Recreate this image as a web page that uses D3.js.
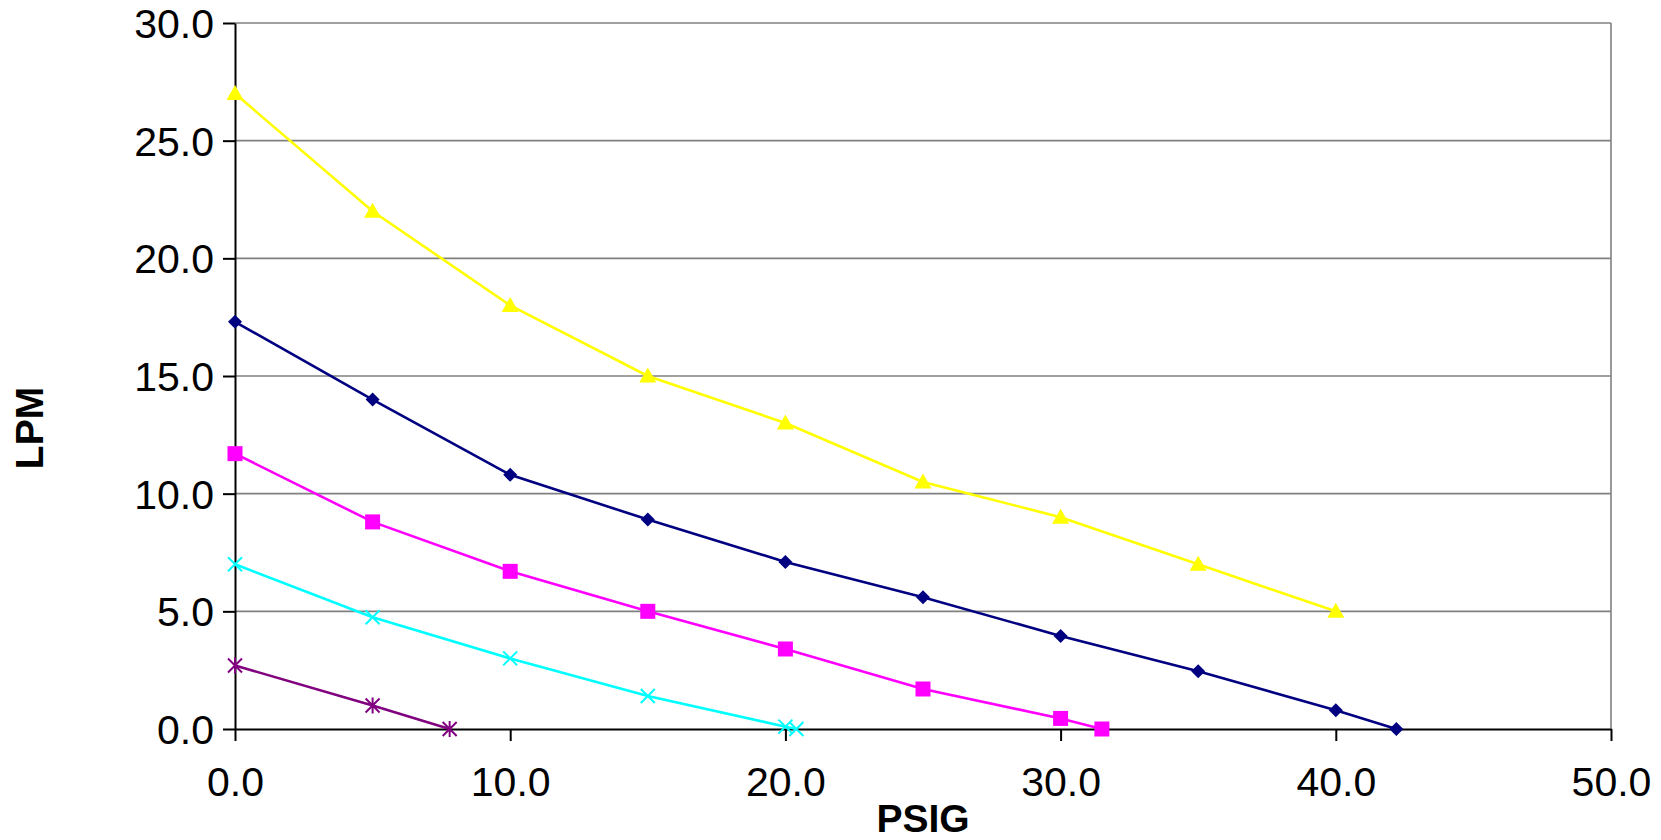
<!DOCTYPE html>
<html>
<head>
<meta charset="utf-8">
<script src="https://cdn.jsdelivr.net/npm/d3@7"></script>
<style>
  body { margin: 0; background: #fff; }
  text { font-family: "Liberation Sans", Arial, sans-serif; }
</style>
</head>
<body>
<div id="chart"></div>
<script>
// chart data
var xTicks = [0, 10, 20, 30, 40, 50];
var yTicks = [0, 5, 10, 15, 20, 25, 30];

var yellowX = [0, 5, 10, 15, 20, 25, 30, 35, 40];
var yellowY = [27, 22, 18, 15, 13, 10.5, 9, 7, 5];

var navyX = [0, 5, 10, 15, 20, 25, 30, 35, 40, 42.2];
var navyY = [17.3, 14, 10.8, 8.9, 7.1, 5.6, 3.95, 2.45, 0.8, 0];

var magentaX = [0, 5, 10, 15, 20, 25, 30, 31.5];
var magentaY = [11.7, 8.8, 6.7, 5.0, 3.4, 1.7, 0.45, 0];

var cyanX = [0, 5, 10, 15, 20, 20.4];
var cyanY = [7.0, 4.75, 3.0, 1.4, 0.1, 0];

var purpleX = [0, 5, 7.8];
var purpleY = [2.7, 1.0, 0];

var series = [
    {name: "yellow", xs: yellowX, ys: yellowY, color: "#FFFF00", marker: "triangle"},
    {name: "navy", xs: navyX, ys: navyY, color: "#000080", marker: "diamond"},
    {name: "magenta", xs: magentaX, ys: magentaY, color: "#FF00FF", marker: "square"},
    {name: "cyan", xs: cyanX, ys: cyanY, color: "#00FFFF", marker: "x"},
    {name: "purple", xs: purpleX, ys: purpleY, color: "#800080", marker: "star"}
];

var W = 1661, H = 840;
var margin = {top: 23, right: 50, bottom: 111, left: 235},
    width = W - margin.left - margin.right,
    height = H - margin.top - margin.bottom;

var svg = d3.select("#chart")
    .append("svg")
    .attr("width", W)
    .attr("height", H)
    .append("g")
    .attr("transform", "translate(" + margin.left + "," + margin.top + ")");

var x = d3.scaleLinear().domain([0, 50]).range([0, width]);
var y = d3.scaleLinear().domain([0, 30]).range([height, 0]);

// gridlines
svg.append("g")
    .selectAll("line")
    .data(yTicks.filter(d => d > 0))
    .enter()
    .append("line")
    .attr("x1", 0)
    .attr("x2", width)
    .attr("y1", d => y(d))
    .attr("y2", d => y(d))
    .attr("stroke", "#808080")
    .attr("stroke-width", 1.6);

// right border
svg.append("line")
    .attr("x1", width).attr("x2", width)
    .attr("y1", 0).attr("y2", height)
    .attr("stroke", "#808080")
    .attr("stroke-width", 1.6);

// axes
var xAxis = svg.append("g")
    .attr("transform", "translate(0," + height + ")")
    .call(d3.axisBottom(x).tickValues(xTicks).tickFormat(d3.format(".1f")).tickSize(12).tickSizeOuter(0).tickPadding(26));

var yAxis = svg.append("g")
    .call(d3.axisLeft(y).tickValues(yTicks).tickFormat(d3.format(".1f")).tickSize(12).tickSizeOuter(0).tickPadding(9));

[xAxis, yAxis].forEach(function (a) {
    a.select(".domain").attr("stroke", "#000").attr("stroke-width", 2);
    a.selectAll(".tick line").attr("stroke", "#000").attr("stroke-width", 2);
    a.selectAll("text")
        .style("font-size", "41px")
        .style("font-family", "'Liberation Sans', Arial, sans-serif")
        .attr("fill", "#000");
});
yAxis.selectAll("text").attr("dy", "0.35em");

// axis titles
svg.append("text")
    .attr("x", x(25))
    .attr("y", height + 103)
    .attr("text-anchor", "middle")
    .style("font-size", "39px")
    .style("font-weight", "bold")
    .text("PSIG");

svg.append("text")
    .attr("transform", "translate(" + (-192) + "," + 405 + ")rotate(-90)")
    .attr("text-anchor", "middle")
    .style("font-size", "39px")
    .style("font-weight", "bold")
    .text("LPM");

// lines and markers
var line = d3.line().x(d => x(d[0])).y(d => y(d[1]));

series.forEach(function (s) {
    var pts = s.xs.map((v, i) => [v, s.ys[i]]);

    svg.append("path")
        .datum(pts)
        .attr("d", line)
        .attr("fill", "none")
        .attr("stroke", s.color)
        .attr("stroke-width", 2.6);

    var g = svg.append("g").attr("class", "markers-" + s.name);
    var m = g.selectAll("g.m")
        .data(pts)
        .enter()
        .append("g")
        .attr("transform", d => "translate(" + x(d[0]) + "," + y(d[1]) + ")");

    if (s.marker == "triangle") {
        m.append("path").attr("d", "M0,-8.5L8.5,6.5L-8.5,6.5Z").attr("fill", s.color);
    } else if (s.marker == "diamond") {
        m.append("path").attr("d", "M0,-7L7,0L0,7L-7,0Z").attr("fill", s.color);
    } else if (s.marker == "square") {
        m.append("rect").attr("x", -7.5).attr("y", -7.5).attr("width", 15).attr("height", 15).attr("fill", s.color);
    } else if (s.marker == "x") {
        m.append("path").attr("d", "M-7,-7L7,7M-7,7L7,-7")
            .attr("stroke", s.color).attr("stroke-width", 2);
    } else if (s.marker == "star") {
        m.append("path").attr("d", "M-7,-7L7,7M-7,7L7,-7M0,-8L0,8")
            .attr("stroke", s.color).attr("stroke-width", 2);
    }
});
</script>
</body>
</html>
